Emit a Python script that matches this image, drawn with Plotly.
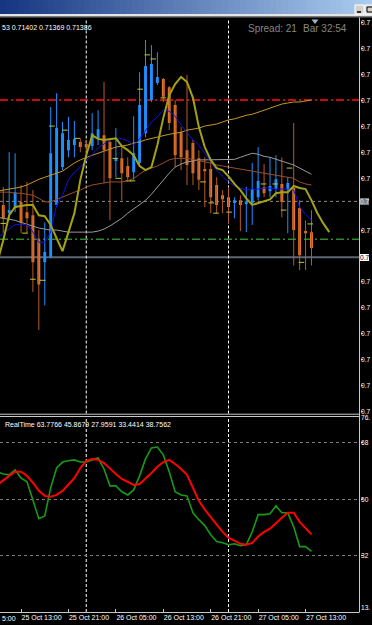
import plotly.graph_objects as go
import pandas as pd

# ---------------- data ----------------
bar_times = pd.date_range("2016-10-25 10:00", periods=53, freq="h")
opens = [0.71494, 0.71478, 0.71488, 0.71500, 0.71480, 0.71474, 0.71427, 0.71382, 0.71392, 0.71494,
         0.71568, 0.71601, 0.71611, 0.71617, 0.71613, 0.71609, 0.71624, 0.71630, 0.71617, 0.71580,
         0.71585, 0.71570, 0.71558, 0.71576, 0.71634, 0.71699, 0.71732, 0.71740, 0.71724, 0.71689,
         0.71636, 0.71601, 0.71615, 0.71585, 0.71564, 0.71564, 0.71533, 0.71513, 0.71509, 0.71498,
         0.71503, 0.71496, 0.71498, 0.71509, 0.71529, 0.71521, 0.71525, 0.71535, 0.71523, 0.71527,
         0.71488, 0.71443, 0.71441]
highs = [0.71529, 0.71597, 0.71595, 0.71533, 0.71539, 0.71523, 0.71445, 0.71460, 0.71685, 0.71712,
         0.71656, 0.71666, 0.71658, 0.71624, 0.71621, 0.71673, 0.71679, 0.71734, 0.71624, 0.71644,
         0.71607, 0.71587, 0.71667, 0.71753, 0.71816, 0.71806, 0.71792, 0.71742, 0.71726, 0.71699,
         0.71646, 0.71748, 0.71621, 0.71601, 0.71587, 0.71582, 0.71548, 0.71523, 0.71529, 0.71509,
         0.71513, 0.71529, 0.71576, 0.71607, 0.71574, 0.71587, 0.71591, 0.71587, 0.71548, 0.71654,
         0.71503, 0.71464, 0.71484]
lows = [0.71439, 0.71464, 0.71480, 0.71439, 0.71439, 0.71324, 0.71250, 0.71298, 0.71390, 0.71490,
        0.71562, 0.71587, 0.71587, 0.71597, 0.71601, 0.71601, 0.71611, 0.71537, 0.71464, 0.71548,
        0.71503, 0.71539, 0.71543, 0.71570, 0.71626, 0.71695, 0.71728, 0.71695, 0.71640, 0.71568,
        0.71562, 0.71533, 0.71533, 0.71523, 0.71490, 0.71478, 0.71478, 0.71478, 0.71458, 0.71468,
        0.71443, 0.71441, 0.71455, 0.71503, 0.71509, 0.71509, 0.71509, 0.71470, 0.71439, 0.71376,
        0.71367, 0.71367, 0.71376]
closes = [0.71468, 0.71484, 0.71519, 0.71460, 0.71468, 0.71382, 0.71339, 0.71402, 0.71595, 0.71644,
          0.71634, 0.71621, 0.71623, 0.71607, 0.71607, 0.71634, 0.71642, 0.71601, 0.71546, 0.71585,
          0.71556, 0.71548, 0.71595, 0.71689, 0.71765, 0.71769, 0.71744, 0.71705, 0.71654, 0.71591,
          0.71587, 0.71572, 0.71556, 0.71543, 0.71560, 0.71509, 0.71494, 0.71505, 0.71490, 0.71503,
          0.71494, 0.71501, 0.71525, 0.71541, 0.71517, 0.71531, 0.71544, 0.71500, 0.71537, 0.71445,
          0.71396, 0.71439, 0.71410]

ma_times = pd.date_range("2016-10-25 09:00", periods=54, freq="h")
olive_times = pd.date_range("2016-10-25 09:00", periods=57, freq="h")
olive_ma = [0.71382, 0.71425, 0.71474, 0.71490, 0.71492, 0.71494, 0.71494, 0.71474, 0.71472, 0.71455,
            0.71429, 0.71404, 0.71441, 0.71478, 0.71543, 0.71591, 0.71630, 0.71623, 0.71621, 0.71623,
            0.71624, 0.71609, 0.71601, 0.71591, 0.71570, 0.71562, 0.71568, 0.71611, 0.71664, 0.71708,
            0.71730, 0.71744, 0.71734, 0.71703, 0.71646, 0.71607, 0.71582, 0.71566, 0.71562, 0.71550,
            0.71535, 0.71523, 0.71507, 0.71494, 0.71498, 0.71501, 0.71505, 0.71517, 0.71519, 0.71519,
            0.71531, 0.71527, 0.71525, 0.71503, 0.71478, 0.71458, 0.71441]
blue_ma = [0.71429, 0.71439, 0.71447, 0.71456, 0.71456, 0.71456, 0.71441, 0.71421, 0.71421, 0.71441,
           0.71494, 0.71513, 0.71543, 0.71558, 0.71568, 0.71580, 0.71591, 0.71605, 0.71613, 0.71621,
           0.71624, 0.71623, 0.71619, 0.71611, 0.71623, 0.71640, 0.71656, 0.71666, 0.71679, 0.71677,
           0.71667, 0.71650, 0.71636, 0.71621, 0.71611, 0.71595, 0.71578, 0.71562, 0.71550, 0.71539,
           0.71531, 0.71527, 0.71523, 0.71525, 0.71525, 0.71527, 0.71527, 0.71525, 0.71525, 0.71525,
           0.71523, 0.71490, 0.71476, 0.71464]
gold_ma = [0.71521, 0.71523, 0.71525, 0.71527, 0.71529, 0.71533, 0.71539, 0.71544, 0.71548, 0.71552,
           0.71556, 0.71560, 0.71568, 0.71576, 0.71582, 0.71587, 0.71591, 0.71595, 0.71599, 0.71603,
           0.71607, 0.71609, 0.71611, 0.71615, 0.71617, 0.71621, 0.71624, 0.71626, 0.71630, 0.71632,
           0.71634, 0.71636, 0.71640, 0.71642, 0.71644, 0.71648, 0.71650, 0.71652, 0.71656, 0.71660,
           0.71662, 0.71666, 0.71669, 0.71671, 0.71675, 0.71679, 0.71683, 0.71687, 0.71691, 0.71693,
           0.71695, 0.71695, 0.71697, 0.71699]
brown_ma = [0.71519, 0.71519, 0.71519, 0.71517, 0.71517, 0.71515, 0.71513, 0.71507, 0.71500, 0.71500,
            0.71505, 0.71509, 0.71515, 0.71519, 0.71523, 0.71529, 0.71533, 0.71535, 0.71537, 0.71539,
            0.71539, 0.71539, 0.71541, 0.71546, 0.71554, 0.71562, 0.71566, 0.71570, 0.71576, 0.71582,
            0.71585, 0.71585, 0.71585, 0.71583, 0.71580, 0.71578, 0.71576, 0.71572, 0.71570, 0.71568,
            0.71566, 0.71564, 0.71562, 0.71560, 0.71558, 0.71556, 0.71554, 0.71552, 0.71550, 0.71548,
            0.71546, 0.71539, 0.71535, 0.71533]
gray_ma = [0.71470, 0.71468, 0.71466, 0.71464, 0.71460, 0.71456, 0.71453, 0.71449, 0.71447, 0.71445,
           0.71445, 0.71443, 0.71441, 0.71441, 0.71441, 0.71441, 0.71441, 0.71443, 0.71447, 0.71453,
           0.71460, 0.71468, 0.71478, 0.71486, 0.71494, 0.71503, 0.71515, 0.71529, 0.71543, 0.71556,
           0.71568, 0.71574, 0.71578, 0.71580, 0.71582, 0.71582, 0.71582, 0.71582, 0.71582, 0.71582,
           0.71583, 0.71587, 0.71591, 0.71595, 0.71593, 0.71589, 0.71587, 0.71583, 0.71580, 0.71576,
           0.71572, 0.71566, 0.71560, 0.71554]

# small marker dashes (indicator points)
mark_times = ["2016-10-25 10:00", "2016-10-25 13:40", "2016-10-25 15:00", "2016-10-25 16:40",
              "2016-10-25 18:12", "2016-10-25 20:24", "2016-10-25 22:30", "2016-10-26 04:54",
              "2016-10-26 05:24", "2016-10-26 07:06", "2016-10-26 07:48", "2016-10-26 09:06",
              "2016-10-26 10:18", "2016-10-26 11:18", "2016-10-26 13:00", "2016-10-26 19:42",
              "2016-10-26 21:06", "2016-10-26 21:54", "2016-10-27 00:06", "2016-10-27 05:54",
              "2016-10-27 07:54", "2016-10-27 09:18", "2016-10-27 10:18", "2016-10-27 12:18",
              "2016-10-27 13:48"]
mark_vals = [0.71458, 0.71439, 0.71349, 0.71347, 0.71648, 0.71640, 0.71624, 0.71585,
             0.71546, 0.71541, 0.71541, 0.71720, 0.71787, 0.71779, 0.71703, 0.71539,
             0.71498, 0.71478, 0.71480, 0.71535, 0.71535, 0.71484, 0.71566, 0.71382,
             0.71457]

rt_green = [58.8, 58.1, 57.8, 59.4, 56.8, 55.6, 49.8, 43.8, 44.7, 53.7,
            60.0, 61.9, 62.3, 62.6, 61.9, 61.9, 62.6, 63.2, 59.7, 54.3,
            54.3, 52.4, 51.4, 53.0, 57.5, 62.9, 66.4, 66.7, 64.2, 58.8,
            52.4, 51.4, 51.1, 45.7, 43.5, 41.6, 38.7, 36.5, 36.1, 35.5,
            35.8, 35.2, 35.5, 39.6, 45.1, 45.1, 45.4, 47.9, 45.7, 45.7,
            41.2, 34.9, 34.9, 33.4]
rt_red = [54.6, 56.2, 57.5, 58.8, 58.8, 57.5, 55.3, 52.7, 51.1, 50.8,
          51.4, 52.7, 54.6, 56.8, 60.0, 62.3, 62.9, 62.6, 61.6, 59.7,
          58.1, 56.5, 55.6, 54.6, 54.9, 56.5, 58.4, 60.4, 61.9, 62.6,
          61.3, 59.7, 57.8, 53.7, 49.5, 46.7, 44.1, 41.9, 39.6, 37.7,
          36.8, 35.8, 35.5, 36.1, 38.1, 39.6, 40.6, 42.5, 44.1, 45.7,
          45.7, 42.8, 40.9, 38.8]

level_red = 0.71699
level_gray = 0.71501
level_green = 0.71427
bid_price = 0.71392

price_ticks = [0.71850, 0.71799, 0.71749, 0.71698, 0.71648, 0.71597, 0.71546,
               0.71445, 0.71344, 0.71293, 0.71243, 0.71192, 0.71142, 0.71091]
price_tick_text = ["0.7"] * len(price_ticks)   # labels as visible (cut by the window edge)
day_breaks = ["2016-10-26 00:00", "2016-10-27 00:00"]
time_tick_vals = ["2016-10-25 13:00", "2016-10-25 21:00", "2016-10-26 05:00", "2016-10-26 13:00",
                  "2016-10-26 21:00", "2016-10-27 05:00", "2016-10-27 13:00"]
time_tick_text = ["25 Oct 13:00", "25 Oct 21:00", "26 Oct 05:00", "26 Oct 13:00",
                  "26 Oct 21:00", "27 Oct 05:00", "27 Oct 13:00"]
rt_tick_vals = [76.3, 68, 50, 32, 15.3]
rt_tick_text = ["76.", "68", "50", "32", "13."]
header_text = "53 0.71402 0.71369 0.71386"
realtime_text = "RealTime 63.7766 45.8679 27.9591 33.4414 38.7562"

# ---------------- helpers (layout geometry) ----------------
W, H = 372, 625
def px(x):
    return x / W
def py(y):
    return 1 - y / H

FONT = "Liberation Sans"
x_range = ["2016-10-25 09:27", "2016-10-27 22:06"]
LBL_X = px(361.0)

fig = go.Figure()

# wicks
bull_x, bull_y, bear_x, bear_y = [], [], [], []
for t, o, h, l, c in zip(bar_times, opens, highs, lows, closes):
    if c >= o:
        bull_x += [t, t, None]; bull_y += [l, h, None]
    else:
        bear_x += [t, t, None]; bear_y += [l, h, None]
fig.add_trace(go.Scatter(x=bull_x, y=bull_y, mode="lines", line=dict(color="#1E90FF", width=1),
                         hoverinfo="skip", showlegend=False))
fig.add_trace(go.Scatter(x=bear_x, y=bear_y, mode="lines", line=dict(color="#B85A25", width=1),
                         hoverinfo="skip", showlegend=False))

fig.add_trace(go.Candlestick(
    x=bar_times, open=opens, high=highs, low=lows, close=closes,
    increasing=dict(line=dict(color="#1E90FF", width=0), fillcolor="#1E90FF"),
    decreasing=dict(line=dict(color="#EE7A2A", width=0), fillcolor="#EE7A2A"),
    whiskerwidth=0, hoverinfo="skip", showlegend=False))

fig.add_trace(go.Scatter(x=mark_times, y=mark_vals, mode="markers",
                         marker=dict(symbol="line-ew", size=4, line=dict(color="#B8CC30", width=1)),
                         hoverinfo="skip", showlegend=False))

fig.add_trace(go.Scatter(x=ma_times, y=gray_ma, mode="lines", line=dict(color="#9A9A9A", width=1),
                         hoverinfo="skip", showlegend=False))
fig.add_trace(go.Scatter(x=ma_times, y=brown_ma, mode="lines", line=dict(color="#9A4F2A", width=1),
                         hoverinfo="skip", showlegend=False))
fig.add_trace(go.Scatter(x=ma_times, y=gold_ma, mode="lines", line=dict(color="#C8962A", width=1),
                         hoverinfo="skip", showlegend=False))
fig.add_trace(go.Scatter(x=ma_times, y=blue_ma, mode="lines", line=dict(color="#1010E8", width=1),
                         hoverinfo="skip", showlegend=False))
fig.add_trace(go.Scatter(x=olive_times, y=olive_ma, mode="lines", line=dict(color="#A3A312", width=2),
                         hoverinfo="skip", showlegend=False))

# sub window
fig.add_trace(go.Scatter(x=ma_times, y=rt_green, mode="lines", line=dict(color="#179A17", width=1.6),
                         xaxis="x2", yaxis="y2", hoverinfo="skip", showlegend=False))
fig.add_trace(go.Scatter(x=ma_times, y=rt_red, mode="lines", line=dict(color="#FF0000", width=2),
                         xaxis="x2", yaxis="y2", hoverinfo="skip", showlegend=False))

shapes = []
# title bar gradient
n = 62
c0, c1 = (22, 54, 130), (170, 204, 240)
for i in range(n):
    f = i / (n - 1)
    col = "rgb(%d,%d,%d)" % tuple(int(a + (b - a) * f) for a, b in zip(c0, c1))
    shapes.append(dict(type="rect", xref="paper", yref="paper", x0=px(i * 6), x1=px(i * 6 + 6.5),
                       y0=py(14), y1=py(0), fillcolor=col, line=dict(width=0), layer="above"))
shapes.append(dict(type="rect", xref="paper", yref="paper", x0=0, x1=1, y0=py(16), y1=py(14),
                   fillcolor="#E4E4E4", line=dict(width=0), layer="above"))
shapes.append(dict(type="rect", xref="paper", yref="paper", x0=0, x1=1, y0=py(17.5), y1=py(16),
                   fillcolor="#7A7A7A", line=dict(width=0), layer="above"))
# window buttons
shapes.append(dict(type="rect", xref="paper", yref="paper", x0=px(355), x1=px(364), y0=py(14), y1=py(5),
                   fillcolor="#D4D0C8", line=dict(color="#FFFFFF", width=1), layer="above"))
shapes.append(dict(type="line", xref="paper", yref="paper", x0=px(357), x1=px(361), y0=py(12), y1=py(12),
                   line=dict(color="#000000", width=1.5), layer="above"))
shapes.append(dict(type="rect", xref="paper", yref="paper", x0=px(365), x1=px(376), y0=py(14), y1=py(5),
                   fillcolor="#D4D0C8", line=dict(color="#FFFFFF", width=1), layer="above"))
shapes.append(dict(type="rect", xref="paper", yref="paper", x0=px(367), x1=px(373), y0=py(12), y1=py(7),
                   fillcolor="rgba(0,0,0,0)", line=dict(color="#000000", width=1), layer="above"))
# chart shift marker
shapes.append(dict(type="path", xref="paper", yref="paper",
                   path="M %f %f L %f %f L %f %f Z" % (px(311.5), py(19.5), px(318.5), py(19.5), px(315), py(24)),
                   fillcolor="#9CB4CC", line=dict(width=0), layer="above"))
# axis frame lines
shapes.append(dict(type="line", xref="paper", yref="paper", x0=px(359.5), x1=px(359.5), y0=py(612), y1=py(17.5),
                   line=dict(color="#C8C8C8", width=1), layer="above"))
shapes.append(dict(type="line", xref="paper", yref="paper", x0=0, x1=px(359.5), y0=py(612.5), y1=py(612.5),
                   line=dict(color="#C8C8C8", width=1), layer="above"))
shapes.append(dict(type="line", xref="paper", yref="paper", x0=0, x1=px(359.5), y0=py(414.2), y1=py(414.2),
                   line=dict(color="#C8C8C8", width=1), layer="above"))
shapes.append(dict(type="line", xref="paper", yref="paper", x0=0, x1=px(359.5), y0=py(416.5), y1=py(416.5),
                   line=dict(color="#C8C8C8", width=1), layer="above"))
# horizontal levels
shapes.append(dict(type="line", xref="x domain", yref="y", x0=0, x1=1, y0=level_red, y1=level_red,
                   line=dict(color="#FF1010", width=1.5, dash="8px,3px,2px,3px"), layer="below"))
shapes.append(dict(type="line", xref="x domain", yref="y", x0=0, x1=1, y0=level_gray, y1=level_gray,
                   line=dict(color="#8A8A8A", width=1, dash="3px,3px"), layer="below"))
shapes.append(dict(type="line", xref="x domain", yref="y", x0=0, x1=1, y0=level_green, y1=level_green,
                   line=dict(color="#2A8A2A", width=1.5, dash="8px,3px,2px,3px"), layer="below"))
shapes.append(dict(type="line", xref="x domain", yref="y", x0=0, x1=1, y0=bid_price, y1=bid_price,
                   line=dict(color="#5C6774", width=2), layer="below"))
# day separators
for d in day_breaks:
    shapes.append(dict(type="line", xref="x", yref="y domain", x0=d, x1=d, y0=0, y1=1,
                       line=dict(color="#FFFFFF", width=1, dash="3px,2px"), layer="below"))
    shapes.append(dict(type="line", xref="x2", yref="y2 domain", x0=d, x1=d, y0=0, y1=1,
                       line=dict(color="#FFFFFF", width=1, dash="3px,2px"), layer="below"))

small = dict(family=FONT, size=7, color="#FFFFFF")
edge = dict(family=FONT, size=6.6, color="#FFFFFF")
annotations = [
    dict(xref="paper", yref="paper", x=px(0), y=py(27), text=header_text, showarrow=False,
         xanchor="left", yanchor="middle", font=small),
    dict(xref="paper", yref="paper", x=px(246), y=py(29), text="Spread: 21", showarrow=False,
         xanchor="left", yanchor="middle", font=dict(family=FONT, size=10, color="#858585")),
    dict(xref="paper", yref="paper", x=px(301), y=py(29), text="Bar 32:54", showarrow=False,
         xanchor="left", yanchor="middle", font=dict(family=FONT, size=10, color="#858585")),
    dict(xref="paper", yref="paper", x=px(3), y=py(424), text=realtime_text, showarrow=False,
         xanchor="left", yanchor="middle", font=small),
    dict(xref="paper", yref="y", x=px(360.2), y=level_gray, text="0.7", showarrow=False,
         xanchor="left", yanchor="middle", bgcolor="#7C7C7C", borderpad=0, borderwidth=0,
         font=dict(family=FONT, size=6.6, color="#E8E8E8")),
    dict(xref="paper", yref="y", x=px(360.2), y=bid_price, text="0.7", showarrow=False,
         xanchor="left", yanchor="middle", bgcolor="#FFFFFF", borderpad=0, borderwidth=0,
         font=dict(family=FONT, size=6.6, color="#000000")),
    dict(xref="paper", yref="paper", x=px(0), y=py(618), text="5:00", showarrow=False,
         xanchor="left", yanchor="middle", font=small),
]
# right-hand price scale labels (as visible at the window edge)
for v, t in zip(price_ticks, price_tick_text):
    annotations.append(dict(xref="paper", yref="y", x=LBL_X, y=v, text=t, showarrow=False,
                            xanchor="left", yanchor="middle", borderpad=0, borderwidth=0, font=edge))
for v, t in zip(rt_tick_vals, rt_tick_text):
    annotations.append(dict(xref="paper", yref="y2", x=LBL_X, y=v, text=t, showarrow=False,
                            xanchor="left", yanchor="middle", borderpad=0, borderwidth=0, font=edge))

fig.update_layout(
    template="none",
    width=W, height=H, margin=dict(l=0, r=0, t=0, b=0, pad=0, autoexpand=False),
    paper_bgcolor="#000000", plot_bgcolor="#000000",
    showlegend=False, hovermode=False,
    shapes=shapes, annotations=annotations,
    xaxis=dict(domain=[0, px(359.5)], range=x_range, type="date", anchor="y", automargin=False,
               showticklabels=False, showgrid=False, zeroline=False, showline=False,
               ticks="", rangeslider=dict(visible=False)),
    yaxis=dict(domain=[py(413.5), py(19.5)], range=[0.71087, 0.71856], side="right", anchor="x",
               automargin=False, tickvals=price_ticks, showticklabels=False, ticks="outside", ticklen=2,
               tickcolor="#C8C8C8", showgrid=False, zeroline=False, showline=False),
    xaxis2=dict(domain=[0, px(359.5)], range=x_range, type="date", anchor="y2", automargin=False,
                tickvals=time_tick_vals, ticktext=time_tick_text, ticks="inside", ticklen=3,
                tickangle=0, tickcolor="#C8C8C8", ticklabelposition="outside right", tickfont=small,
                showgrid=False, zeroline=False, showline=False),
    yaxis2=dict(domain=[py(612), py(417)], range=[14.0, 76.3], side="right", anchor="x2",
                automargin=False, tickvals=[68, 50, 32], showticklabels=False, ticks="outside", ticklen=2,
                tickcolor="#C8C8C8", showgrid=True, gridcolor="#7A7A7A",
                griddash="3px,3px", gridwidth=1, zeroline=False, showline=False),
)

fig.write_html("out.html")
